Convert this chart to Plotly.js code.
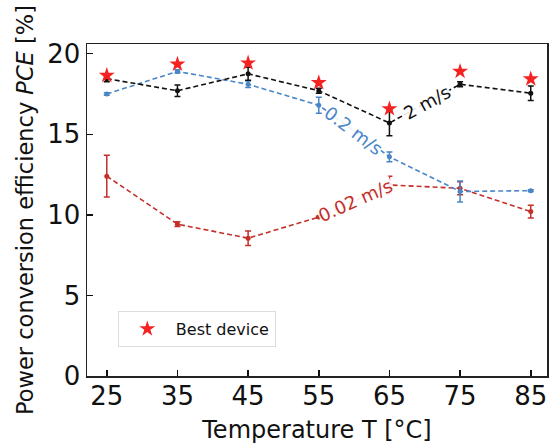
<!DOCTYPE html>
<html>
<head>
<meta charset="utf-8">
<script src="https://cdn.plot.ly/plotly-3.0.1.min.js"></script>
<style>html,body{margin:0;padding:0;background:#fff;}#chart{width:550px;height:444px;}</style>
</head>
<body>
<div id="chart"></div>
<script>
const temps = [25, 35, 45, 55, 65, 75, 85];
const pce2 = [18.45, 17.7, 18.75, 17.7, 15.7, 18.1, 17.55];
const err2 = [0.2, 0.35, 0.4, 0.15, 0.8, 0.15, 0.45];
const pce02 = [17.5, 18.9, 18.1, 16.8, 13.6, 11.45, 11.5];
const err02 = [0.08, 0.1, 0.2, 0.5, 0.3, 0.65, 0.05];
const pce002 = [12.4, 9.42, 8.55, 9.86, 11.85, 11.65, 10.2];
const err002 = [1.3, 0.15, 0.45, 0.05, 0.55, 0.4, 0.4];
const best = [18.65, 19.35, 19.42, 18.2, 16.58, 18.9, 18.43];
const labels = ["2 m/s", "0.2 m/s", "0.02 m/s"];
const labelX = [70.3, 59.9, 60.2];

const cBlack = "#111111", cBlue = "#4a86c6", cRed = "#c42f2a", cStar = "#f52222";
const FONT = "DejaVu Sans, sans-serif";

function series(y, e, color) {
  return {
    x: temps, y: y, type: "scatter", mode: "lines+markers", showlegend: false,
    line: {color: color, width: 1.6, dash: "5px,3px"},
    marker: {color: color, size: 5, symbol: "circle"},
    error_y: {type: "data", array: e, visible: true, color: color, thickness: 1.5, width: 3}
  };
}

const traces = [
  series(pce002, err002, cRed),
  series(pce02, err02, cBlue),
  series(pce2, err2, cBlack),
  {
    x: temps, y: best, type: "scatter", mode: "markers", name: "Best device",
    marker: {symbol: "star", size: 12, color: cStar, line: {width: 0}}
  }
];

function interp(arr, xv) {
  const i = Math.floor((xv - 25) / 10);
  const t = (xv - temps[i]) / 10;
  return arr[i] + t * (arr[i + 1] - arr[i]);
}

const annotations = [
  {x: labelX[0], y: interp(pce2, labelX[0]), text: labels[0], textangle: -29, color: cBlack},
  {x: labelX[1], y: interp(pce02, labelX[1]), text: labels[1], textangle: 37, color: cBlue},
  {x: labelX[2], y: interp(pce002, labelX[2]), text: labels[2], textangle: -24, color: cRed}
].map(a => ({
  x: a.x, y: a.y, xref: "x", yref: "y", text: a.text, showarrow: false,
  textangle: a.textangle, bgcolor: "rgba(255,255,255,0.9)", borderpad: 0,
  font: {family: FONT, size: 18, color: a.color}
}));

const layout = {
  width: 550, height: 444,
  margin: {l: 87, r: 3, t: 44, b: 68},
  paper_bgcolor: "#fff", plot_bgcolor: "#fff",
  font: {family: FONT, color: "#111"},
  xaxis: {
    range: [22.2, 87.3], tickvals: temps, ticktext: temps.map(String),
    ticks: "inside", ticklen: 6, tickwidth: 1.5, tickcolor: "#111",
    showline: true, linecolor: "#222", linewidth: 1.5, mirror: true,
    showgrid: false, zeroline: false, ticklabelstandoff: -4,
    tickfont: {family: FONT, size: 26, color: "#111"},
    title: {text: "Temperature T [°C]", font: {family: FONT, size: 24, color: "#111"}, standoff: 14}
  },
  yaxis: {
    range: [0, 20.6], tickvals: [0, 5, 10, 15, 20],
    ticks: "inside", ticklen: 6, tickwidth: 1.5, tickcolor: "#111",
    showline: true, linecolor: "#222", linewidth: 1.5, mirror: true,
    showgrid: false, zeroline: false,
    tickfont: {family: FONT, size: 26, color: "#111"},
    title: {text: "Power conversion efficiency <i>PCE</i> [%]", font: {family: FONT, size: 22.5, color: "#111"}, standoff: 7}
  },
  legend: {
    x: 0.067, y: 0.196, xanchor: "left", yanchor: "top",
    bgcolor: "#fff", bordercolor: "#dddddd", borderwidth: 1,
    itemwidth: 47,
    font: {family: FONT, size: 16, color: "#111"}
  },
  annotations: annotations
};

Plotly.newPlot("chart", traces, layout, {displayModeBar: false, staticPlot: true});
</script>
</body>
</html>
